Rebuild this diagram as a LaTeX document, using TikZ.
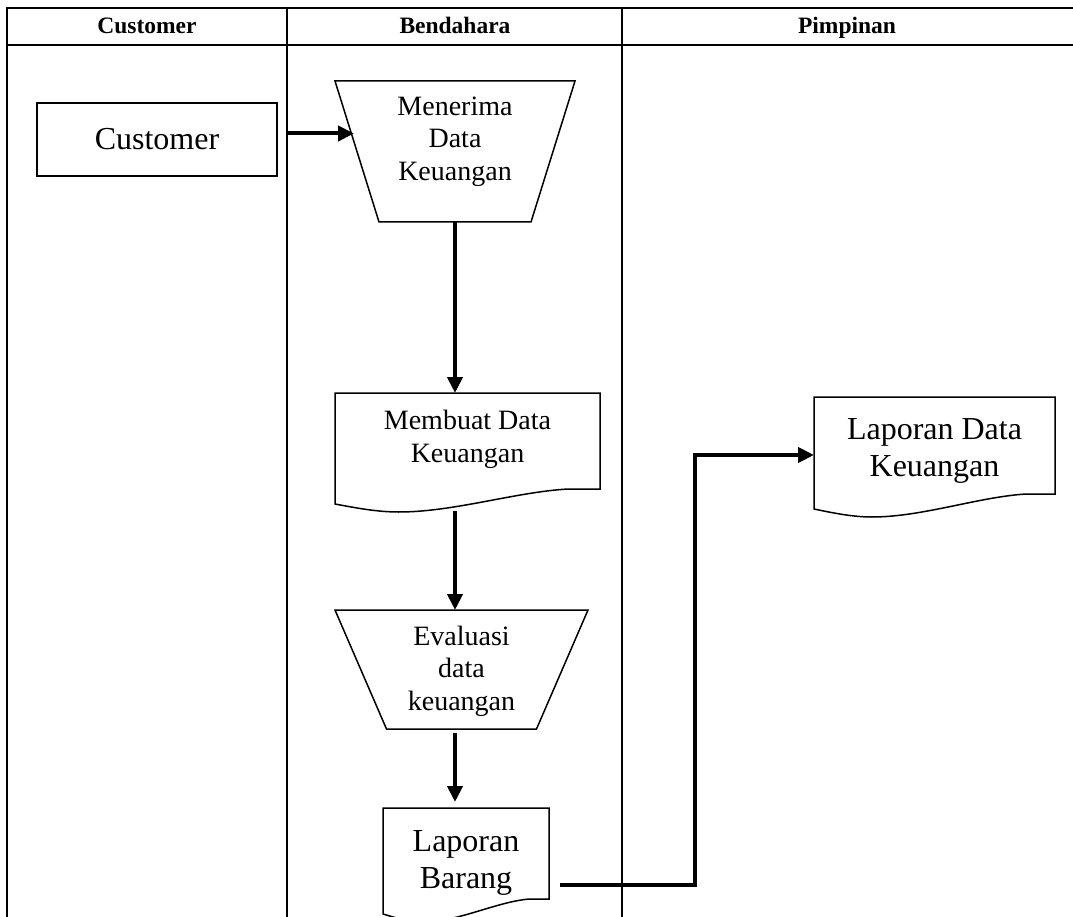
\documentclass[tikz,border=0pt]{standalone}
\usepackage{fontspec}
\setmainfont{Liberation Serif}
\usepackage{tikz}
\usetikzlibrary{arrows.meta,calc,positioning}
\tikzset{>={Triangle[length=16pt,width=15pt]}}
\newcommand{\headtext}{\fontsize{23.5}{27}\selectfont\bfseries}
\newcommand{\midtext}{\fontsize{28}{32.5}\selectfont}
\newcommand{\bigtext}{\fontsize{32}{37}\selectfont}
% document symbol: box with a wavy lower edge
\newcommand{\docedge}[1]{%
  \draw[docline] ([yshift=-15pt]#1.south west) -- (#1.north west) -- (#1.north east) -- (#1.south east)
    -- ($(#1.south west)!0.88!(#1.south east)$)
    .. controls ($(#1.south west)!0.68!(#1.south east)+(0,-3pt)$) and ($(#1.south west)!0.45!(#1.south east)+(0,-23pt)$)
    .. ($(#1.south west)!0.24!(#1.south east)+(0,-23pt)$)
    .. controls ($(#1.south west)!0.16!(#1.south east)+(0,-23pt)$) and ($(#1.south west)!0.08!(#1.south east)+(0,-19pt)$)
    .. ([yshift=-15pt]#1.south west) -- cycle;}
% manual operation symbol: wide on top, narrow below
\newcommand{\trapedge}[2]{%
  \draw[docline] (#1.north west) -- (#1.north east) -- ([xshift=-#2]#1.south east) -- ([xshift=#2]#1.south west) -- cycle;}

\begin{document}
\begin{tikzpicture}[x=1pt,y=-1pt,
                          lane/.style={line width=2pt, black},
                          flow/.style={line width=4pt, black, ->},
                          custbox/.style={draw, line width=1.5pt, minimum width=240pt, minimum height=73pt, font=\bigtext},
                          shapebox/.style={rectangle, inner sep=0pt, outer sep=0pt},
                          docline/.style={line width=1.5pt, black},
                          headcell/.style={font=\headtext, anchor=base},
                         ]

\useasboundingbox (0,0) rectangle (1073,917);

% swimlanes
\draw[lane] (7,917) -- (7,8) -- (1073,8);
\draw[lane] (7,45) -- (1073,45);
\draw[lane] (287,8) -- (287,917);
\draw[lane] (622,8) -- (622,917);

\node[headcell] (hcust) at (147,34) {Customer};
\node[headcell] (hbend) at (455,34) {Bendahara};
\node[headcell] (hpimp) at (847,34) {Pimpinan};

\coordinate (spine) at (455,0);
\coordinate (turn) at (695,455);

\node[custbox] (cust) at (157,139.5) {Customer};

\node[shapebox, minimum width=240pt, minimum height=141pt,
      label={[yshift=10pt, align=center, font=\midtext]center:Menerima\\Data\\Keuangan}] (terima) at (455,151.5) {};
\trapedge{terima}{44pt}

\node[shapebox, minimum width=265pt, minimum height=96pt,
      label={[yshift=1.5pt, align=center, font=\midtext]center:Membuat Data\\Keuangan}] (buat) at (467.5,441) {};
\docedge{buat}

\node[shapebox, minimum width=253pt, minimum height=119pt,
      label={[yshift=-1.5pt, align=center, font=\midtext]center:Evaluasi\\data\\keuangan}] (evaluasi) at (461.5,669.5) {};
\trapedge{evaluasi}{51.5pt}

\node[shapebox, minimum width=166pt, minimum height=91pt,
      label={[yshift=-9pt, align=center, font=\bigtext]center:Laporan\\Barang}] (barang) at (466,853.5) {};
\docedge{barang}

\node[shapebox, minimum width=241pt, minimum height=97pt,
      label={[yshift=-5pt, align=center, font=\bigtext]center:Laporan Data\\Keuangan}] (lapdata) at (934.5,445.5) {};
\docedge{lapdata}

\draw[flow] ([xshift=10pt,yshift=6pt]cust.east) coordinate (c1) -- ([xshift=19pt]c1 -| terima.west);
\draw[flow] (spine |- terima.south) -- (spine |- buat.north);
\draw[flow] ([yshift=-22pt]spine |- buat.south) -- (spine |- evaluasi.north);
\draw[flow] ([yshift=-4pt]spine |- evaluasi.south) -- ([yshift=6pt]spine |- barang.north);
\draw[flow] ([xshift=11pt,yshift=14pt]barang.south east) -| (turn) -- (turn -| lapdata.west);

\end{tikzpicture}
\end{document}
